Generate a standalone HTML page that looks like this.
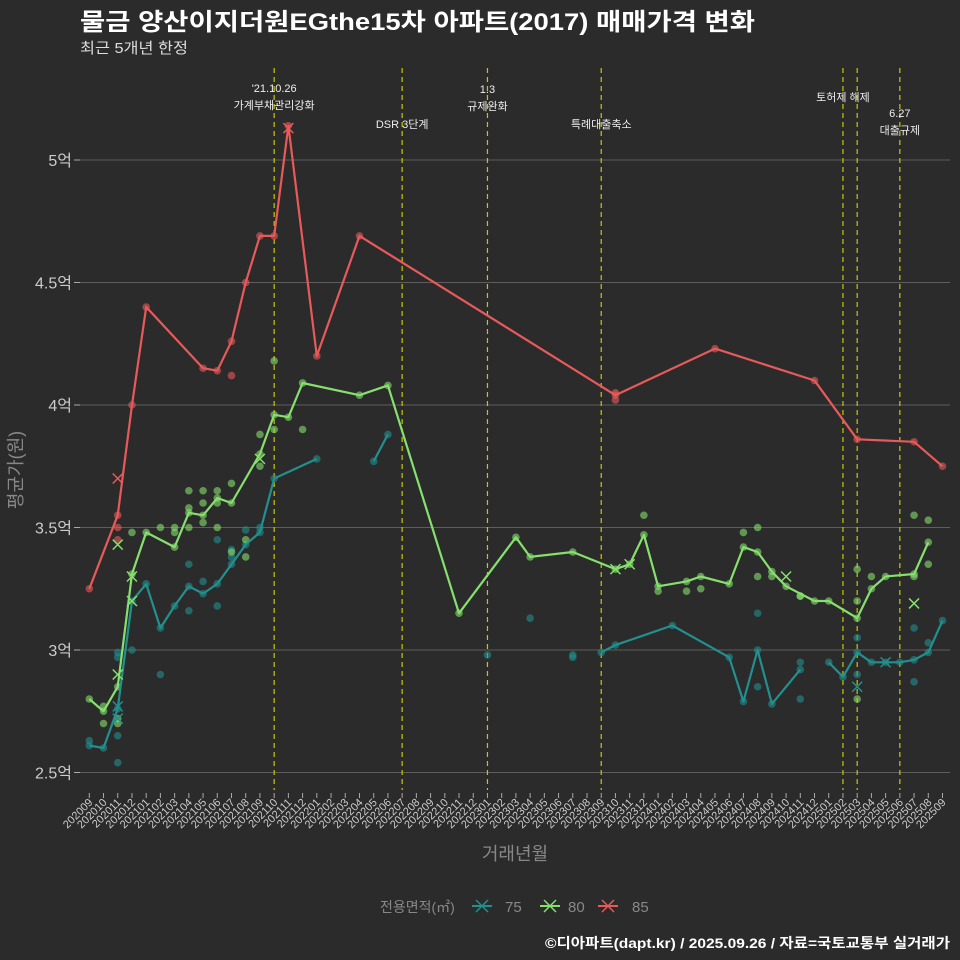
<!DOCTYPE html>
<html><head><meta charset="utf-8"><style>
html,body{margin:0;padding:0;background:#2b2b2b;}
svg{display:block;font-family:"Liberation Sans","Noto Sans CJK KR",sans-serif;}
</style></head><body>
<svg id="chart" width="960" height="960" viewBox="0 0 960 960">
<rect width="960" height="960" fill="#2b2b2b"/>
<text x="80" y="30" fill="#fff" font-size="24" font-weight="bold" textLength="675" lengthAdjust="spacingAndGlyphs">물금 양산이지더원EGthe15차 아파트(2017) 매매가격 변화</text>
<text x="80" y="53" fill="#ddd" font-size="15" textLength="108" lengthAdjust="spacingAndGlyphs">최근 5개년 한정</text>
<text transform="translate(22,470) rotate(-90)" text-anchor="middle" fill="#888" font-size="18">평균가(원)</text>
<text x="515" y="860" text-anchor="middle" fill="#888" font-size="18">거래년월</text>
<g id="grid"></g>
<g id="vlines"></g>
<g id="scatter"></g>
<g id="lines"></g>
<g id="marks"></g>
<g id="xticks"></g>
<g>
<text x="380" y="912" fill="#888" font-size="14">전용면적(㎡)</text>
<g><line x1="472" y1="906" x2="492" y2="906" stroke="#22908e" stroke-width="2"/><path d="M476 900 L488 912 M488 900 L476 912" stroke="#22908e" stroke-width="1.5"/><text x="505" y="912" fill="#888" font-size="15">75</text></g>
<g><line x1="540" y1="906" x2="560" y2="906" stroke="#86e06e" stroke-width="2"/><path d="M544 900 L556 912 M556 900 L544 912" stroke="#86e06e" stroke-width="1.5"/><text x="568" y="912" fill="#888" font-size="15">80</text></g>
<g><line x1="598" y1="906" x2="618" y2="906" stroke="#e85a5a" stroke-width="2"/><path d="M602 900 L614 912 M614 900 L602 912" stroke="#e85a5a" stroke-width="1.5"/><text x="632" y="912" fill="#888" font-size="15">85</text></g>
</g>
<text x="950" y="948" text-anchor="end" fill="#fff" font-size="14" font-weight="bold" textLength="405" lengthAdjust="spacingAndGlyphs">©디아파트(dapt.kr) / 2025.09.26 / 자료=국토교통부 실거래가</text>
</svg>
<script>
const months = [];
for (let y=2020,m=9;months.length<61;){months.push(''+y+(m<10?'0':'')+m);m++;if(m>12){m=1;y++;}}
const yTicks = [2.5,3,3.5,4,4.5,5];
const yTickLabels = ['2.5억','3억','3.5억','4억','4.5억','5억'];
const s85Idx = [0,2,3,4,8,9,10,11,12,13,14,16,19,37,44,51,54,58,60];
const s85Val = [3.25,3.55,4.0,4.40,4.15,4.14,4.26,4.50,4.69,4.69,5.14,4.20,4.69,4.04,4.23,4.10,3.86,3.85,3.75];
const s80Idx = [0,1,2,3,4,6,7,8,9,10,12,13,14,15,19,21,26,30,31,34,37,38,39,40,42,43,45,46,47,48,49,51,52,54,55,56,58,59];
const s80Val = [2.80,2.75,2.85,3.31,3.48,3.42,3.56,3.55,3.62,3.60,3.80,3.96,3.95,4.09,4.04,4.08,3.15,3.46,3.38,3.40,3.33,3.35,3.47,3.26,3.28,3.30,3.27,3.42,3.40,3.32,3.26,3.20,3.20,3.13,3.25,3.30,3.31,3.44];
const s75Idx = [0,1,2,3,4,5,6,7,8,9,10,11,12,13,16,null,20,21,null,36,37,41,45,46,47,48,50,null,52,53,54,55,56,57,58,59,60];
const s75Val = [2.61,2.60,2.76,3.20,3.27,3.09,3.18,3.26,3.23,3.27,3.35,3.43,3.48,3.70,3.78,null,3.77,3.88,null,2.99,3.02,3.10,2.97,2.79,3.00,2.78,2.92,null,2.95,2.89,2.99,2.95,2.95,2.95,2.96,2.99,3.12];
const d85Idx = [2,2,10,37,37];
const d85Val = [3.50,3.45,4.12,4.05,4.02];
const d80Idx = [1,1,2,2,3,5,6,6,7,7,7,8,8,8,9,9,9,10,10,11,11,12,12,13,13,15,40,39,43,46,47,47,48,50,50,54,54,54,55,58,58,59,59,42];
const d80Val = [2.77,2.70,2.72,2.70,3.48,3.50,3.50,3.48,3.65,3.58,3.50,3.65,3.60,3.52,3.65,3.60,3.50,3.68,3.40,3.38,3.45,3.88,3.75,3.90,4.18,3.90,3.24,3.55,3.25,3.48,3.50,3.30,3.30,3.22,3.22,3.33,3.20,2.80,3.30,3.55,3.30,3.53,3.35,3.24];
const d75Idx = [0,2,2,2,2,3,5,7,7,8,9,9,10,10,11,12,28,31,34,34,47,47,50,50,54,54,58,58,59];
const d75Val = [2.63,2.99,2.97,2.65,2.54,3.00,2.90,3.35,3.16,3.28,3.18,3.45,3.41,3.38,3.49,3.50,2.98,3.13,2.98,2.97,3.15,2.85,2.80,2.95,3.05,2.90,3.09,2.87,3.03];
const x85Idx=[2,14]; const x85Val=[3.70,5.13];
const x80Idx=[2,2,3,3,12,37,38,49,58]; const x80Val=[2.90,3.43,3.30,3.20,3.78,3.33,3.35,3.30,3.19];
const x75Idx=[2,2,54,56]; const x75Val=[2.77,2.72,2.85,2.95];
const policyIdx=[13,22,28,36,53,54,57];
const policyText=[["'21.10.26","가계부채관리강화"],["DSR 3단계"],["1.3","규제완화"],["특례대출축소"],["토허제 해제"],[],["6.27","대출규제"]];
const policyY=[92,128,93,128,101,0,117];

const X=i=>89.3+i*14.22, Y=v=>650-(v-3)*245;
const NS='http://www.w3.org/2000/svg';
function mk(tag,at,parent){const e=document.createElementNS(NS,tag);for(const k in at)e.setAttribute(k,at[k]);parent.appendChild(e);return e;}
const grid=document.getElementById('grid');
yTicks.forEach((t,k)=>{
  const l=mk('line',{x1:80,x2:950,y1:Y(t),y2:Y(t),stroke:'#5e5e5e','stroke-width':1},grid);
  
  
  const tk=mk('line',{x1:74,x2:80,y1:Y(t),y2:Y(t),stroke:'#aaa'},grid);
  
  
  const tx=mk('text',{x:72,y:Y(t)+6,'text-anchor':'end',fill:'#ccc','font-size':16},grid);
  tx.textContent=yTickLabels[k];
  
  
});
const vl=document.getElementById('vlines');
policyIdx.forEach((i,k)=>{
  const l=mk('line',{x1:X(i),x2:X(i),y1:68,y2:790,stroke:'#c8c800','stroke-width':1.2,'stroke-dasharray':'5,4'},vl);
  
  
  policyText[k].forEach((s,j)=>{
    const t=mk('text',{x:X(i),y:policyY[k]+j*17,'text-anchor':'middle',fill:'#eee','font-size':11},vl);
    t.textContent=s;
    
    
  });
});
const xt=document.getElementById('xticks');
months.forEach((m,i)=>{
  const tk=mk('line',{x1:X(i),x2:X(i),y1:793,y2:798,stroke:'#aaa'},xt);
  
  
  const t=mk('text',{transform:`translate(${X(i)+4},${803}) rotate(-45)`,'text-anchor':'end',fill:'#ccc','font-size':11},xt);
  t.textContent=m;
  
  
});
const sc=document.getElementById('scatter'), ln=document.getElementById('lines'), mkg=document.getElementById('marks');
const series=[
 ['75','#22908e',s75Idx,s75Val,d75Idx,d75Val,x75Idx,x75Val],
 ['80','#86e06e',s80Idx,s80Val,d80Idx,d80Val,x80Idx,x80Val],
 ['85','#e85a5a',s85Idx,s85Val,d85Idx,d85Val,x85Idx,x85Val]];
series.forEach(([nm,col,li,lv,di,dv,xi,xv])=>{
  const pts=[...di.map((i,k)=>[i,dv[k]]),...li.map((i,k)=>[i,lv[k]]).filter(p=>p[0]!==null)];
  pts.forEach(([i,v])=>{
    const c=mk('circle',{cx:X(i),cy:Y(v),r:3.8,fill:col,'fill-opacity':0.6},sc);
    
    
  });
  let segs=[],cur=[];
  li.forEach((i,k)=>{if(i===null){if(cur.length)segs.push(cur);cur=[];}else cur.push(X(i).toFixed(1)+','+Y(lv[k]).toFixed(1));});
  if(cur.length)segs.push(cur);
  segs.forEach(s=>{
    const p=mk('polyline',{points:s.join(' '),fill:'none',stroke:col,'stroke-width':2.2,'stroke-linejoin':'round'},ln);
    
    
  });
  xi.forEach((i,k)=>{
    const x=X(i),y=Y(xv[k]);
    const p=mk('path',{d:`M${x-5} ${y-5} L${x+5} ${y+5} M${x+5} ${y-5} L${x-5} ${y+5}`,stroke:col,'stroke-width':1.5},mkg);
    
    
  });
});
</script>
</body></html>
